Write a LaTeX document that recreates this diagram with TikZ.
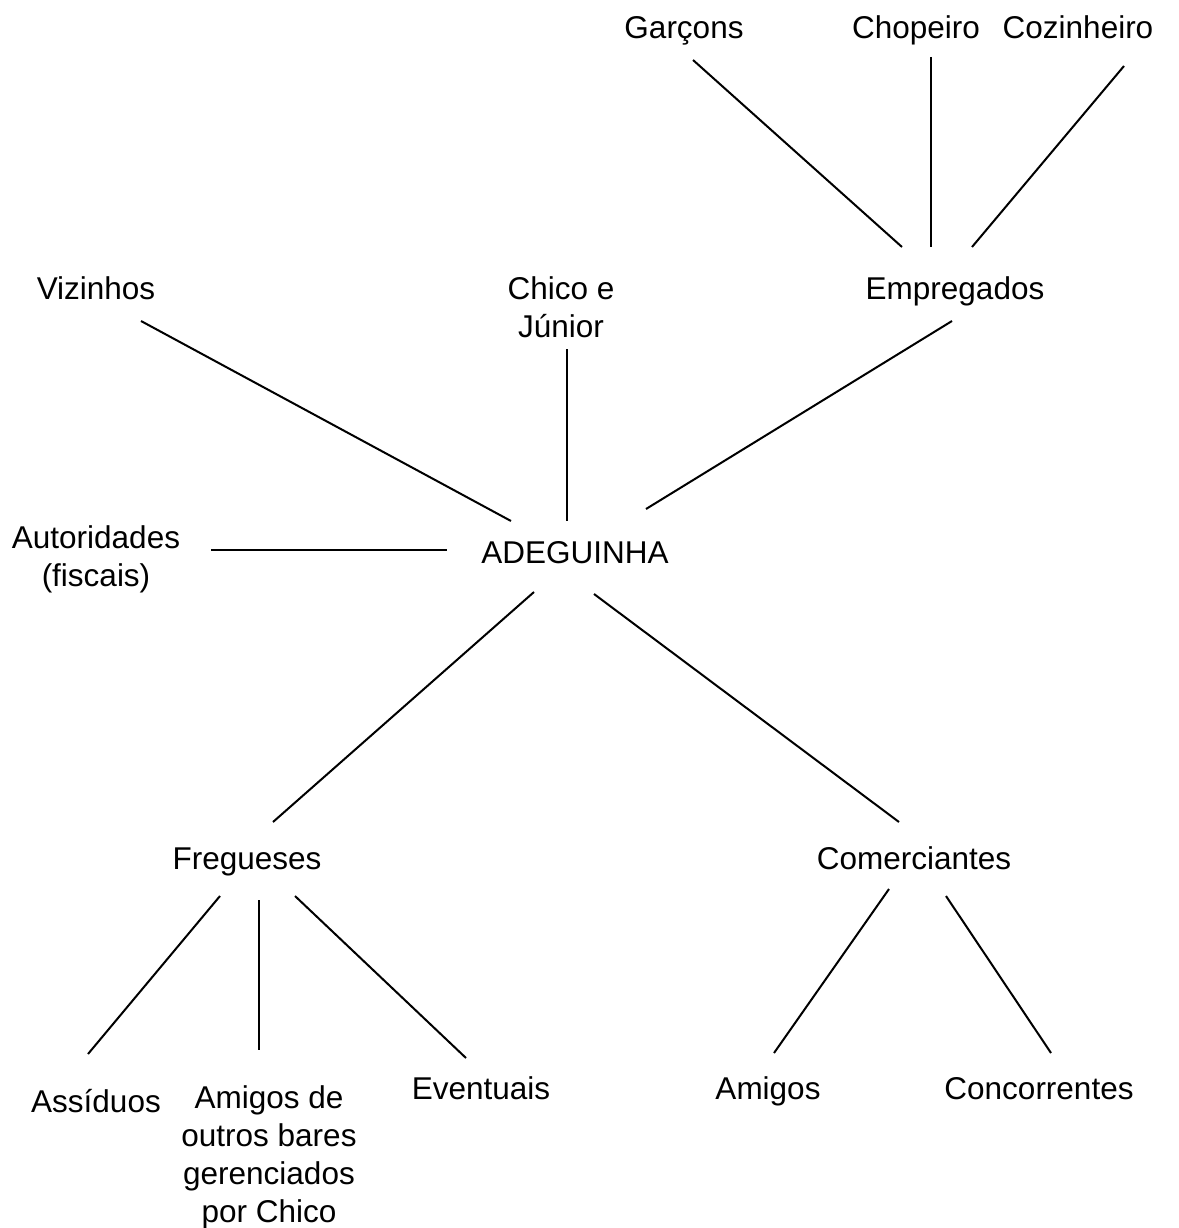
\documentclass[tikz,border=0pt]{standalone}
\usepackage{fontspec}
\setmainfont{Liberation Sans}
\begin{document}
\begin{tikzpicture}[x=1pt,y=-1pt,
  lbl/.style={anchor=base,inner sep=0pt,font=\fontsize{31.5}{38}\selectfont},
  mlbl/.style={anchor=north,inner sep=0pt,align=center,font=\fontsize{31.5}{38}\selectfont},
  link/.style={line width=2pt,black}]
\fill[white] (0,0) rectangle (1178,1228);
\useasboundingbox (0,0) rectangle (1178,1228);
% nodes
\node[lbl] (garcons) at (684,39) {Garçons};
\node[lbl] (chopeiro) at (916,39) {Chopeiro};
\node[lbl] (cozinheiro) at (1078,39) {Cozinheiro};
\node[lbl] (vizinhos) at (96,299) {Vizinhos};
\node[mlbl] (chico) at (561,276) {Chico e\\Júnior};
\node[lbl] (empregados) at (955,299) {Empregados};
\node[mlbl] (autoridades) at (96,525) {Autoridades\\(fiscais)};
\node[lbl] (adeguinha) at (575,563) {ADEGUINHA};
\node[lbl] (fregueses) at (247,869) {Fregueses};
\node[lbl] (comerciantes) at (914,869) {Comerciantes};
\node[lbl] (assiduos) at (96,1112) {Assíduos};
\node[mlbl] (amigosde) at (269,1085) {Amigos de\\outros bares\\gerenciados\\por Chico};
\node[lbl] (eventuais) at (481,1099) {Eventuais};
\node[lbl] (amigos) at (768,1099) {Amigos};
\node[lbl] (concorrentes) at (1039,1099) {Concorrentes};
% connectors
\draw[link] ([shift={(9,21)}]garcons.base) -- ([shift={(-53,-52)}]empregados.base);
\draw[link] ([shift={(15,18)}]chopeiro.base) -- ([shift={(-24,-52)}]empregados.base);
\draw[link] ([shift={(46,27)}]cozinheiro.base) -- ([shift={(17,-52)}]empregados.base);
\draw[link] ([shift={(45,22)}]vizinhos.base) -- ([shift={(-64,-42)}]adeguinha.base);
\draw[link] ([shift={(6,73)}]chico.north) -- ([shift={(-8,-42)}]adeguinha.base);
\draw[link] ([shift={(-3,22)}]empregados.base) -- ([shift={(71,-54)}]adeguinha.base);
\draw[link] ([shift={(115,25)}]autoridades.north) -- ([shift={(-128,-13)}]adeguinha.base);
\draw[link] ([shift={(-41,29)}]adeguinha.base) -- ([shift={(26,-47)}]fregueses.base);
\draw[link] ([shift={(19,31)}]adeguinha.base) -- ([shift={(-15,-47)}]comerciantes.base);
\draw[link] ([shift={(-27,27)}]fregueses.base) -- ([shift={(-8,-58)}]assiduos.base);
\draw[link] ([shift={(12,31)}]fregueses.base) -- ([shift={(-10,-35)}]amigosde.north);
\draw[link] ([shift={(48,27)}]fregueses.base) -- ([shift={(-15,-41)}]eventuais.base);
\draw[link] ([shift={(-25,20)}]comerciantes.base) -- ([shift={(6,-46)}]amigos.base);
\draw[link] ([shift={(32,27)}]comerciantes.base) -- ([shift={(12,-46)}]concorrentes.base);
\end{tikzpicture}
\end{document}
